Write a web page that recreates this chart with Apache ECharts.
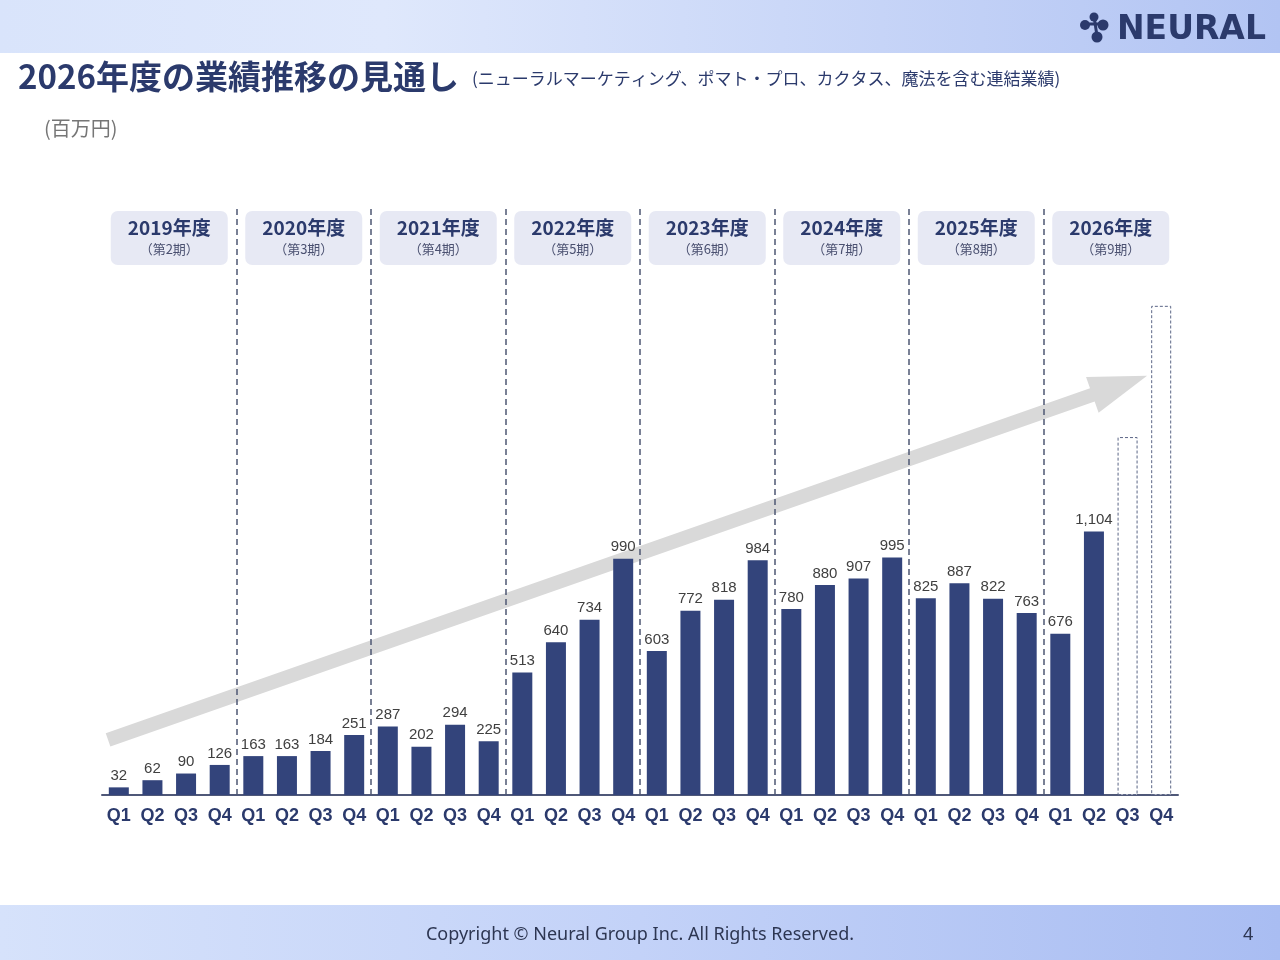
<!DOCTYPE html>
<html lang="ja">
<head>
  <meta charset="UTF-8">
  <title>2026年度の業績推移の見通し</title>
  <script src="https://cdn.jsdelivr.net/npm/echarts@6/dist/echarts.min.js"></script>
  <style>
    html, body { margin: 0; padding: 0; background: #fff; }
    #chart { width: 1280px; height: 960px; }
  </style>
</head>
<body>
  <div id="chart"></div>
  <script>
    // 年度・期・四半期
    const fiscalYears = ['2019年度', '2020年度', '2021年度', '2022年度', '2023年度', '2024年度', '2025年度', '2026年度'];
    const periods = ['（第2期）', '（第3期）', '（第4期）', '（第5期）', '（第6期）', '（第7期）', '（第8期）', '（第9期）'];
    const quarters = ['Q1', 'Q2', 'Q3', 'Q4'];
    // 実績（百万円）
    const actualValues = [
      32, 62, 90, 126,
      163, 163, 184, 251,
      287, 202, 294, 225,
      513, 640, 734, 990,
      603, 772, 818, 984,
      780, 880, 907, 995,
      825, 887, 822, 763,
      676, 1104
    ];
    // 見通し（2026年度 Q3・Q4、点線の枠）
    const forecastValues = [1500, 2050];
    // 右肩上がりの矢印（始点・終点、データ座標）
    const arrowFrom = [0.18, 231];
    const arrowTo = [31.08, 1757];

    const NAVY = '#2b3a6c';
    const BAR = '#33447b';

    const categories = [];
    fiscalYears.forEach(y => quarters.forEach(q => categories.push(y + '-' + q)));
    const separators = fiscalYears.slice(1).map((_, i) => (i + 1) * quarters.length);

    const barData = actualValues.map(v => ({ value: v })).concat(forecastValues.map(v => ({
      value: v,
      itemStyle: { color: '#ffffff', borderColor: '#5b6586', borderWidth: 1, borderType: [3, 2] },
      label: { show: false }
    })));

    const chart = echarts.init(document.getElementById('chart'));
    chart.setOption({
      animation: false,
      backgroundColor: '#ffffff',
      textStyle: { fontFamily: 'Noto Sans CJK JP, Noto Sans, sans-serif' },
      title: [
        { text: '2026年度の業績推移の見通し', left: 18, top: 60, padding: 0,
          textStyle: { fontSize: 33, fontWeight: 'bold', color: NAVY, fontFamily: 'Noto Sans CJK JP' } },
        { text: '(ニューラルマーケティング、ポマト・プロ、カクタス、魔法を含む連結業績)', left: 472, top: 70, padding: 0,
          textStyle: { fontSize: 17, fontWeight: 'normal', color: NAVY, fontFamily: 'Noto Sans CJK JP' } },
        { text: '(百万円)', left: 44, top: 118, padding: 0,
          textStyle: { fontSize: 20, fontWeight: 'normal', color: '#767676', fontFamily: 'Noto Sans CJK JP' } },
        { text: 'Copyright © Neural Group Inc. All Rights Reserved.', left: 'center', top: 926, padding: 0,
          textStyle: { fontSize: 18, fontWeight: 'normal', color: '#2d3652', fontFamily: 'Noto Sans' } },
        { text: '4', left: 1243, top: 926, padding: 0,
          textStyle: { fontSize: 18, fontWeight: 'normal', color: '#2d3652', fontFamily: 'Noto Sans' } }
      ],
      graphic: [
        { id: 'header', type: 'rect', z: 0, silent: true, shape: { x: 0, y: 0, width: 1280, height: 53 },
          style: { fill: new echarts.graphic.LinearGradient(0, 0, 1, 0, [
            { offset: 0, color: '#d9e4fb' }, { offset: 0.3, color: '#dfe8fc' }, { offset: 1, color: '#b2c4f3' }]) } },
        { id: 'footer', type: 'rect', z: 0, silent: true, shape: { x: 0, y: 905, width: 1280, height: 55 },
          style: { fill: new echarts.graphic.LinearGradient(0, 0, 1, 0, [
            { offset: 0, color: '#d6e2fb' }, { offset: 0.5, color: '#c3d2f8' }, { offset: 1, color: '#a9bdf2' }]) } },
        { id: 'logoLink1', type: 'line', z: 1, silent: true, shape: { x1: 1085, y1: 24, x2: 1103, y2: 24 }, style: { stroke: NAVY, lineWidth: 3 } },
        { id: 'logoLink2', type: 'line', z: 1, silent: true, shape: { x1: 1094, y1: 16, x2: 1097, y2: 36 }, style: { stroke: NAVY, lineWidth: 3 } },
        { id: 'logoDot1', type: 'circle', z: 1, silent: true, shape: { cx: 1085, cy: 25, r: 5 }, style: { fill: NAVY } },
        { id: 'logoDot2', type: 'circle', z: 1, silent: true, shape: { cx: 1094, cy: 17, r: 4.5 }, style: { fill: NAVY } },
        { id: 'logoDot3', type: 'circle', z: 1, silent: true, shape: { cx: 1103, cy: 25, r: 5.5 }, style: { fill: NAVY } },
        { id: 'logoDot4', type: 'circle', z: 1, silent: true, shape: { cx: 1097, cy: 37, r: 5.5 }, style: { fill: NAVY } },
        { id: 'logoText', type: 'text', z: 1, silent: true, x: 1117, y: 30,
          style: { text: 'NEURAL', fill: NAVY, font: 'bold 33px DejaVu Sans', verticalAlign: 'middle' } }
      ],
      grid: { left: 102, right: 102, top: 208, bottom: 165 },
      xAxis: [
        {
          type: 'category', data: categories, position: 'bottom',
          axisLine: { lineStyle: { color: '#4f5878', width: 2 } },
          axisTick: { show: false },
          axisLabel: {
            interval: 0, margin: 12, formatter: v => v.split('-')[1],
            fontSize: 18, fontWeight: 'bold', color: NAVY, fontFamily: 'Liberation Sans'
          }
        },
        {
          type: 'category', data: fiscalYears, position: 'top',
          axisLine: { show: false }, axisTick: { show: false }, splitLine: { show: false },
          axisLabel: {
            inside: true, margin: 3, interval: 0,
            formatter: (v, i) => '{a|' + v + '}\n{b|' + periods[i] + '}',
            backgroundColor: '#e7e9f4', borderRadius: 7, width: 117, padding: [5, 0, 7, 0], align: 'center',
            rich: {
              a: { fontSize: 19, fontWeight: 'bold', color: NAVY, lineHeight: 24, align: 'center', fontFamily: 'Noto Sans CJK JP' },
              b: { fontSize: 13, color: '#4a5070', lineHeight: 18, align: 'center', fontFamily: 'Noto Sans CJK JP' }
            }
          }
        },
        { type: 'value', min: 0, max: categories.length, show: false }
      ],
      yAxis: { type: 'value', min: 0, max: 2460, show: false },
      series: [
        {
          type: 'bar', xAxisIndex: 0, yAxisIndex: 0, z: 3,
          barWidth: 20,
          data: barData,
          itemStyle: { color: BAR },
          label: {
            show: true, position: 'top', distance: 4,
            fontSize: 15, color: '#404040', fontFamily: 'Liberation Sans',
            formatter: p => p.value.toLocaleString('en-US')
          }
        },
        {
          type: 'custom', xAxisIndex: 2, yAxisIndex: 0, z: 1, silent: true,
          data: [[arrowFrom[0], arrowFrom[1], arrowTo[0], arrowTo[1]]],
          renderItem: (params, api) => {
            const s = api.coord([api.value(0), api.value(1)]);
            const t = api.coord([api.value(2), api.value(3)]);
            const dx = t[0] - s[0], dy = t[1] - s[1];
            const len = Math.sqrt(dx * dx + dy * dy);
            const ux = dx / len, uy = dy / len;
            const nx = -uy, ny = ux;
            const shaft = 7, head = 19, headLen = 58;
            const bx = t[0] - ux * headLen, by = t[1] - uy * headLen;
            const pts = [
              [s[0] + nx * shaft, s[1] + ny * shaft],
              [bx + nx * shaft, by + ny * shaft],
              [bx + nx * head, by + ny * head],
              t,
              [bx - nx * head, by - ny * head],
              [bx - nx * shaft, by - ny * shaft],
              [s[0] - nx * shaft, s[1] - ny * shaft]
            ];
            return { type: 'polygon', shape: { points: pts }, style: { fill: '#d9d9d9' } };
          },
          markLine: {
            silent: true, symbol: 'none', label: { show: false },
            lineStyle: { color: '#4e5773', width: 1.5, type: [6, 4] },
            data: separators.map(x => ({ xAxis: x }))
          }
        }
      ]
    });
  </script>
</body>
</html>
